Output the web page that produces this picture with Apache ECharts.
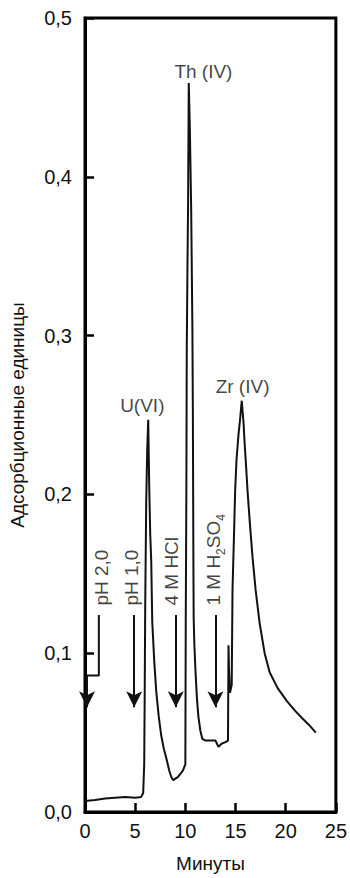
<!DOCTYPE html>
<html>
<head>
<meta charset="utf-8">
<script src="https://cdn.jsdelivr.net/npm/echarts@6/dist/echarts.min.js"></script>
<style>
html,body{margin:0;padding:0;background:#fff;}
#chart{width:350px;height:878px;}
</style>
</head>
<body>
<div id="chart"></div>
<script>
// ---- data ----
const minutes = [0, 1, 2, 3, 4, 5, 5.6, 5.8, 5.9, 5.95, 6.0, 6.1, 6.2, 6.3, 6.4, 6.5, 6.6, 6.7, 6.9, 7.1, 7.35, 7.6, 7.85, 8.1, 8.4, 8.6, 8.8, 9.0, 9.25, 9.5, 9.75,
  10.0, 10.04, 10.1, 10.14, 10.22, 10.27, 10.34, 10.45, 10.58, 10.7, 10.75, 10.8, 10.83, 10.9, 11.0, 11.15, 11.3, 11.5, 11.7, 12.0, 12.5, 13.0, 13.3, 13.6, 14.0, 14.25,
  14.3, 14.35, 14.45, 14.55, 14.62, 14.7, 14.85, 14.96, 15.1, 15.3, 15.45, 15.62, 15.8, 15.9, 16.05, 16.2, 16.45, 16.7, 17.0, 17.4, 17.9, 18.4, 19.2, 20.1, 20.9, 21.65, 22.3, 23.0];
const absorbance = [0.007, 0.0075, 0.0085, 0.009, 0.0095, 0.009, 0.0095, 0.012, 0.03, 0.075, 0.13, 0.195, 0.228, 0.247, 0.205, 0.175, 0.158, 0.12, 0.095, 0.076, 0.06, 0.048, 0.04, 0.034, 0.026, 0.022, 0.020, 0.021, 0.022, 0.024, 0.026,
  0.03, 0.12, 0.2, 0.29, 0.35, 0.38, 0.459, 0.43, 0.38, 0.306, 0.25, 0.16, 0.122, 0.105, 0.09, 0.072, 0.06, 0.051, 0.046, 0.045, 0.045, 0.045, 0.041, 0.043, 0.044, 0.045,
  0.105, 0.09, 0.075, 0.078, 0.08, 0.14, 0.175, 0.202, 0.222, 0.238, 0.247, 0.259, 0.245, 0.233, 0.218, 0.202, 0.18, 0.16, 0.14, 0.119, 0.1, 0.088, 0.078, 0.07, 0.064, 0.059, 0.055, 0.05];

const xTicks = [0, 5, 10, 15, 20, 25];
const yTicks = [0.0, 0.1, 0.2, 0.3, 0.4, 0.5];

// peak labels
const peakNames = ['U(VI)', 'Th (IV)', 'Zr (IV)'];
const peakT = [5.71, 11.8, 15.7];
const peakV = [0.256, 0.466, 0.268];

// eluent labels (rotated) and arrows
const eluentNames = ['pH 2,0', 'pH 1,0', '4 M HCl', '1 M H{s|2}SO{s|4}'];
const eluentT = [1.67, 4.63, 8.66, 12.8];
const eluentV = [0.130, 0.130, 0.130, 0.130];
const arrowT = [4.9, 9.05, 13.0];
const arrowFromV = 0.124;
const arrowToV = 0.066;
// pH 2,0 bracket
const bracketT = [1.38, 1.38, 0.2];
const bracketV = [0.124, 0.086, 0.086];
const bracketArrowT = 0.2;
const bracketArrowV = [0.086, 0.066];

const FONT = 'Liberation Sans, Arial, Helvetica, sans-serif';
const TXT = '#111';

const chart = echarts.init(document.getElementById('chart'), null, {renderer: 'svg'});

const arrowLines = arrowT.map(t => [{coord: [t, arrowFromV]}, {coord: [t, arrowToV]}]);
arrowLines.push([{coord: [bracketArrowT, bracketArrowV[0]]}, {coord: [bracketArrowT, bracketArrowV[1]]}]);

chart.setOption({
  animation: false,
  grid: {left: 83, right: 13, top: 18, bottom: 64, show: true, borderColor: '#000', borderWidth: 3, backgroundColor: 'transparent'},
  xAxis: {
    type: 'value', min: 0, max: 25, interval: 5,
    name: 'Минуты', nameLocation: 'middle', nameGap: 42,
    nameTextStyle: {fontFamily: FONT, fontSize: 19, color: TXT},
    axisLine: {show: true, lineStyle: {color: '#000', width: 3}},
    axisTick: {show: true, inside: true, length: 9, lineStyle: {color: '#000', width: 2.5}},
    axisLabel: {fontFamily: FONT, fontSize: 20, color: TXT, margin: 9,
      formatter: v => xTicks.includes(v) ? String(v) : ''},
    splitLine: {show: false}
  },
  yAxis: {
    type: 'value', min: 0, max: 0.5, interval: 0.1,
    name: 'Адсорбционные единицы', nameLocation: 'middle', nameGap: 58,
    nameTextStyle: {fontFamily: FONT, fontSize: 19, color: TXT},
    axisLine: {show: true, lineStyle: {color: '#000', width: 3}},
    axisTick: {show: true, inside: true, length: 9, lineStyle: {color: '#000', width: 2.5}},
    axisLabel: {fontFamily: FONT, fontSize: 20, color: TXT, margin: 13,
      formatter: v => {
        const m = yTicks.find(y => Math.abs(y - v) < 1e-9);
        return m === undefined ? '' : m.toFixed(1).replace('.', ',');
      }},
    splitLine: {show: false}
  },
  series: [
    {
      type: 'line', name: 'signal', silent: true,
      data: minutes.map((t, i) => [t, absorbance[i]]),
      showSymbol: false, symbol: 'none',
      lineStyle: {color: '#111', width: 2},
      z: 3
    },
    {
      type: 'line', name: 'bracket', silent: true,
      data: bracketT.map((t, i) => [t, bracketV[i]]),
      symbol: 'none',
      lineStyle: {color: '#111', width: 2},
      markLine: {
        silent: true, symbol: ['none', 'arrow'], symbolSize: [12, 16],
        label: {show: false},
        lineStyle: {color: '#111', width: 2, type: 'solid'},
        data: arrowLines
      },
      z: 4
    },
    {
      type: 'scatter', name: 'peaks', silent: true,
      symbolSize: 1, itemStyle: {color: 'rgba(0,0,0,0)'},
      data: peakT.map((t, i) => [t, peakV[i], peakNames[i]]),
      label: {show: true, position: 'inside', formatter: p => p.data[2],
        fontFamily: FONT, fontSize: 19, color: TXT, align: 'center', verticalAlign: 'middle'},
      z: 5
    },
    {
      type: 'scatter', name: 'eluents', silent: true,
      symbolSize: 1, itemStyle: {color: 'rgba(0,0,0,0)'},
      data: eluentT.map((t, i) => [t, eluentV[i], eluentNames[i]]),
      label: {show: true, position: 'inside', rotate: 90, align: 'left', verticalAlign: 'middle',
        formatter: p => '{n|' + p.data[2].replace(/\{s\|(\d)\}/g, '}{s|$1}{n|') + '}',
        fontFamily: FONT, fontSize: 19, color: TXT,
        rich: {
          n: {fontFamily: FONT, fontSize: 19, color: TXT, lineHeight: 28, verticalAlign: 'middle'},
          s: {fontFamily: FONT, fontSize: 12, color: TXT, lineHeight: 28, verticalAlign: 'bottom'}
        }},
      z: 5
    }
  ]
});
</script>
</body>
</html>
